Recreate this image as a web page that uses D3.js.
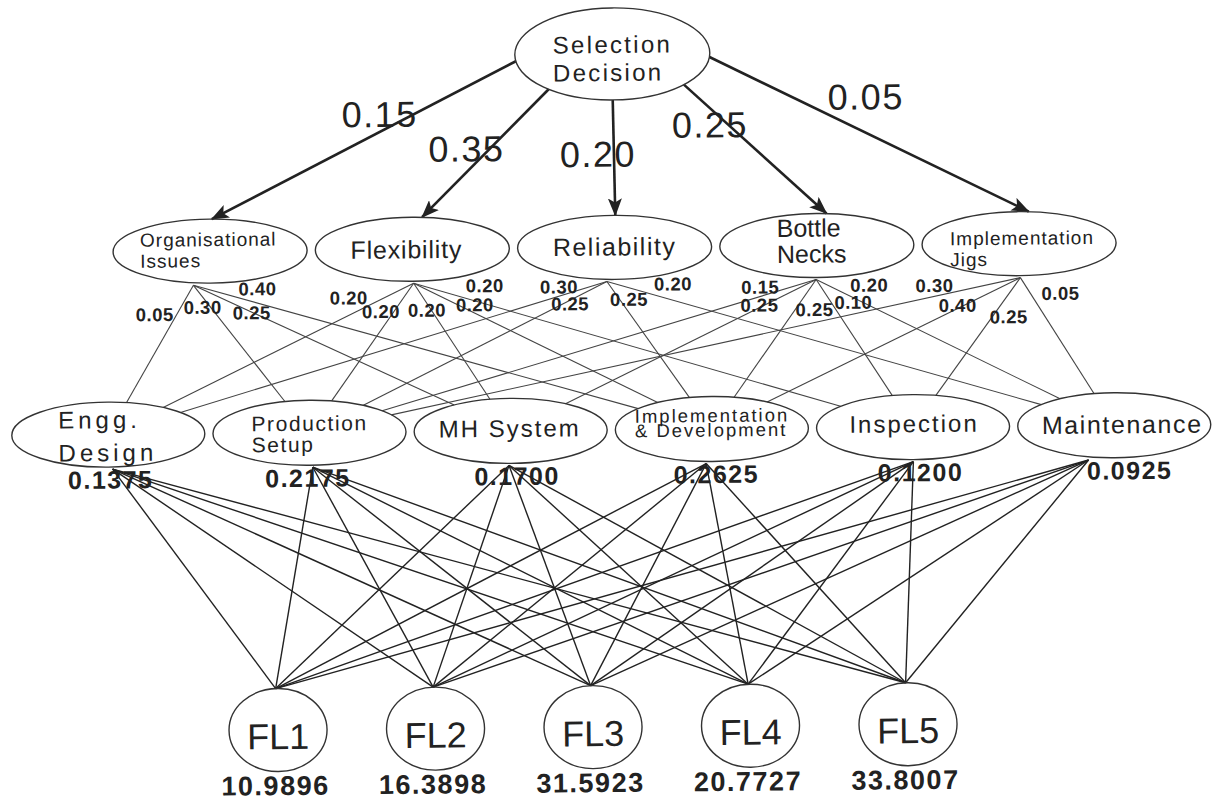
<!DOCTYPE html>
<html>
<head>
<meta charset="utf-8">
<script src="https://cdn.jsdelivr.net/npm/d3@7.9.0/dist/d3.min.js"></script>
<style>
  html, body { margin: 0; padding: 0; background: #fff; }
  svg { display: block; }
  text { font-family: "Liberation Sans", Arial, sans-serif; fill: #222; }
</style>
</head>
<body>
<svg id="chart" width="1213" height="801"></svg>
<script>
// ---- data ----
const goal = 'Selection\nDecision';
const criteria = ['Organisational\nIssues', 'Flexibility', 'Reliability', 'Bottle\nNecks', 'Implementation\nJigs'];
const criteriaWeights = [0.15, 0.35, 0.20, 0.25, 0.05];
const subCriteria = ['Engg.\nDesign', 'Production\nSetup', 'MH System', 'Implementation\n& Development', 'Inspection', 'Maintenance'];
const subWeights = [0.1375, 0.2175, 0.1700, 0.2625, 0.1200, 0.0925];
// local weights: rows = criteria, columns = sub-criteria (null = no link)
const localWeights = [
  [0.05, 0.30, 0.25, 0.40, null, null],
  [0.20, 0.20, 0.20, 0.20, 0.20, null],
  [0.30, 0.25, null, 0.25, null, 0.20],
  [null, 0.15, 0.25, 0.25, 0.10, 0.20],
  [null, 0.30, null, 0.40, 0.25, 0.05]
];
const alternatives = ['FL1', 'FL2', 'FL3', 'FL4', 'FL5'];
const altScores = [10.9896, 16.3898, 31.5923, 20.7727, 33.8007];

// ---- layout ----
const goalNode = { cx: 615.5, cy: 54, rx: 97.5, ry: 46 };
const xCrit = d3.scalePoint().domain(criteria).range([211.5, 1020.5]);
const xSub = d3.scalePoint().domain(subCriteria).range([108, 1114]);
const xAlt = d3.scalePoint().domain(alternatives).range([275, 905]);
const yCrit = 247.5, ySub = 430, yAlt = 727;

const goalText = { size: 24, ls: 2.3, anchor: 'start', dx: -59.5, dy: -1, lh: 28 };
const critText = [
  { size: 19, ls: 1, anchor: 'start', dx: -70, dy: -5, lh: 21 },
  { size: 25, ls: 0.8, anchor: 'middle', dx: -6, dy: 9, lh: 0 },
  { size: 25, ls: 1.5, anchor: 'middle', dx: 0, dy: 8, lh: 0 },
  { size: 25, ls: 0, anchor: 'start', dx: -40, dy: -9, lh: 26 },
  { size: 19, ls: 1, anchor: 'start', dx: -69, dy: 1, lh: 21 }
];
const subText = [
  { size: 24, ls: 4, anchor: 'start', dx: -50, dy: -6.5, lh: 33 },
  { size: 21, ls: 1.6, anchor: 'start', dx: -58, dy: -2, lh: 21 },
  { size: 24, ls: 2, anchor: 'middle', dx: -1, dy: 6, lh: 0 },
  { size: 18.5, ls: 2, anchor: 'start', dx: -77, dy: -7, lh: 14.5 },
  { size: 24, ls: 2, anchor: 'middle', dx: 1, dy: 5, lh: 0 },
  { size: 25, ls: 1.6, anchor: 'middle', dx: 8, dy: 8, lh: 0 }
];
// arrow start angle on goal ellipse, tip shift, label offset from arrow middle
const arrowLayout = [
  { a: 172, tip: 2, lx: 16, ly: -26 },
  { a: 131, tip: 10, lx: -19, ly: -5 },
  { a: 90, tip: 1, lx: -16, ly: -4 },
  { a: 43, tip: 10, lx: -45, ly: -25 },
  { a: 5, tip: 10, lx: -3, ly: -38 }
];
const critOriginDx = [-17, 1, -8, -1, 1];
const linkLabelNudge = [
  [[-39, 29], [9, 22], [58, 28], [64, 4], null, null],
  [[-65, 14], [-33, 28], [13, 27], [61, 22], [71, 3], null],
  [[-48, 5], [-37, 22], null, [22, 18], null, [66, 3]],
  [null, [-56, 7], [-57, 25], [-2, 30], [37, 23], [53, 6]],
  [null, [-86, 7], null, [-63, 27], [-12, 39], [40, 16]]
];
const subFanDx = [4, 3, -2, -6, 0, -26];
const subWeightDx = [2, -2, 6, 4, 7, 15];

const fmt2 = d3.format('.2f');
const fmt4 = d3.format('.4f');

const svg = d3.select('#chart');
svg.append('rect').attr('width', 1213).attr('height', 801).attr('fill', '#fff');

svg.append('defs').append('marker')
  .attr('id', 'arrow')
  .attr('markerUnits', 'userSpaceOnUse')
  .attr('viewBox', '0 0 18 14')
  .attr('markerWidth', 18).attr('markerHeight', 14)
  .attr('refX', 17).attr('refY', 7)
  .attr('orient', 'auto')
  .append('path')
  .attr('d', 'M0,0 L18,7 L0,14 L4,7 Z')
  .attr('fill', '#222');

// the scanned figure sits slightly tilted
const g = svg.append('g').attr('transform', 'rotate(-0.53, 606, 400)');

const critNodes = criteria.map((name, i) => ({ name, cx: xCrit(name), cy: yCrit, rx: 97, ry: 32, w: criteriaWeights[i] }));
const subNodes = subCriteria.map((name, j) => ({ name, cx: xSub(name), cy: ySub, rx: 96.5, ry: 32.5, w: subWeights[j] }));
const altNodes = alternatives.map((name, k) => ({ name, cx: xAlt(name), cy: yAlt, rx: 49, ry: 41.5, score: altScores[k] }));

function clip(node, px, py) {
  const dx = px - node.cx, dy = py - node.cy;
  const t = 1 / Math.sqrt((dx / node.rx) ** 2 + (dy / node.ry) ** 2);
  return [node.cx + dx * t, node.cy + dy * t];
}

function drawName(node, name, st) {
  const t = g.append('text')
    .attr('font-size', st.size)
    .attr('letter-spacing', st.ls)
    .attr('text-anchor', st.anchor);
  name.split('\n').forEach((line, k) => {
    t.append('tspan')
      .attr('x', node.cx + st.dx)
      .attr('y', node.cy + st.dy + k * st.lh)
      .text(line);
  });
}

// sub-criteria -> alternatives
const fan = [];
subNodes.forEach((s, j) => altNodes.forEach(a => fan.push({ s, a, j })));
g.append('g').selectAll('line')
  .data(fan)
  .join('line')
  .attr('x1', d => d.s.cx + subFanDx[d.j])
  .attr('y1', d => d.s.cy + d.s.ry + 2)
  .attr('x2', d => d.a.cx - 2)
  .attr('y2', d => d.a.cy - d.a.ry)
  .attr('stroke', '#222')
  .attr('stroke-width', 1.4);

// criteria -> sub-criteria
const links = [];
localWeights.forEach((row, i) => row.forEach((w, j) => {
  if (w == null) return;
  const c = critNodes[i];
  const src = [c.cx + critOriginDx[i], c.cy + c.ry + 2];
  const end = clip(subNodes[j], src[0], src[1]);
  links.push({ i, j, w, src, end });
}));
g.append('g').selectAll('line')
  .data(links)
  .join('line')
  .attr('x1', d => d.src[0]).attr('y1', d => d.src[1])
  .attr('x2', d => d.end[0]).attr('y2', d => d.end[1])
  .attr('stroke', '#444')
  .attr('stroke-width', 1.1);

// goal -> criteria arrows
const arrows = critNodes.map((c, i) => {
  const L = arrowLayout[i];
  const rad = L.a * Math.PI / 180;
  const x1 = goalNode.cx + goalNode.rx * Math.cos(rad);
  const y1 = goalNode.cy + goalNode.ry * Math.sin(rad);
  return { c, L, x1, y1, x2: c.cx + L.tip, y2: c.cy - c.ry };
});
g.append('g').selectAll('line')
  .data(arrows)
  .join('line')
  .attr('x1', d => d.x1).attr('y1', d => d.y1)
  .attr('x2', d => d.x2).attr('y2', d => d.y2)
  .attr('stroke', '#222')
  .attr('stroke-width', 2.6)
  .attr('marker-end', 'url(#arrow)');

// ellipses
const ellipse = (sel, nodes) => sel.selectAll('ellipse')
  .data(nodes)
  .join('ellipse')
  .attr('cx', d => d.cx).attr('cy', d => d.cy)
  .attr('rx', d => d.rx).attr('ry', d => d.ry)
  .attr('fill', 'none')
  .attr('stroke', '#333')
  .attr('stroke-width', 1.4);
ellipse(g.append('g'), [goalNode]);
ellipse(g.append('g'), critNodes);
ellipse(g.append('g'), subNodes);
ellipse(g.append('g'), altNodes);

// names
drawName(goalNode, goal, goalText);
critNodes.forEach((c, i) => drawName(c, c.name, critText[i]));
subNodes.forEach((s, j) => drawName(s, s.name, subText[j]));
g.append('g').selectAll('text')
  .data(altNodes)
  .join('text')
  .attr('x', d => d.cx)
  .attr('y', d => d.cy + 19)
  .attr('text-anchor', 'middle')
  .attr('font-size', 36)
  .text(d => d.name);

// arrow weights
g.append('g').selectAll('text')
  .data(arrows)
  .join('text')
  .attr('x', d => (d.x1 + d.x2) / 2 + d.L.lx)
  .attr('y', d => (d.y1 + d.y2) / 2 + d.L.ly + 13)
  .attr('text-anchor', 'middle')
  .attr('font-size', 36)
  .attr('letter-spacing', 1.5)
  .text(d => fmt2(d.c.w));

// local weights
g.append('g').selectAll('text')
  .data(links)
  .join('text')
  .attr('x', d => d.src[0] + linkLabelNudge[d.i][d.j][0])
  .attr('y', d => d.src[1] + linkLabelNudge[d.i][d.j][1] + 6.5)
  .attr('text-anchor', 'middle')
  .attr('font-size', 18.5)
  .attr('font-weight', 'bold')
  .attr('letter-spacing', 0.5)
  .text(d => fmt2(d.w));

// global sub-criteria weights
g.append('g').selectAll('text')
  .data(subNodes)
  .join('text')
  .attr('x', (d, j) => d.cx + subWeightDx[j])
  .attr('y', d => d.cy + 54)
  .attr('text-anchor', 'middle')
  .attr('font-size', 25)
  .attr('font-weight', 'bold')
  .attr('letter-spacing', 1.5)
  .text(d => fmt4(d.w));

// alternative scores
g.append('g').selectAll('text')
  .data(altNodes)
  .join('text')
  .attr('x', d => d.cx - 3)
  .attr('y', d => d.cy + 65)
  .attr('text-anchor', 'middle')
  .attr('font-size', 27)
  .attr('font-weight', 'bold')
  .attr('letter-spacing', 1.5)
  .text(d => fmt4(d.score));
</script>
</body>
</html>
